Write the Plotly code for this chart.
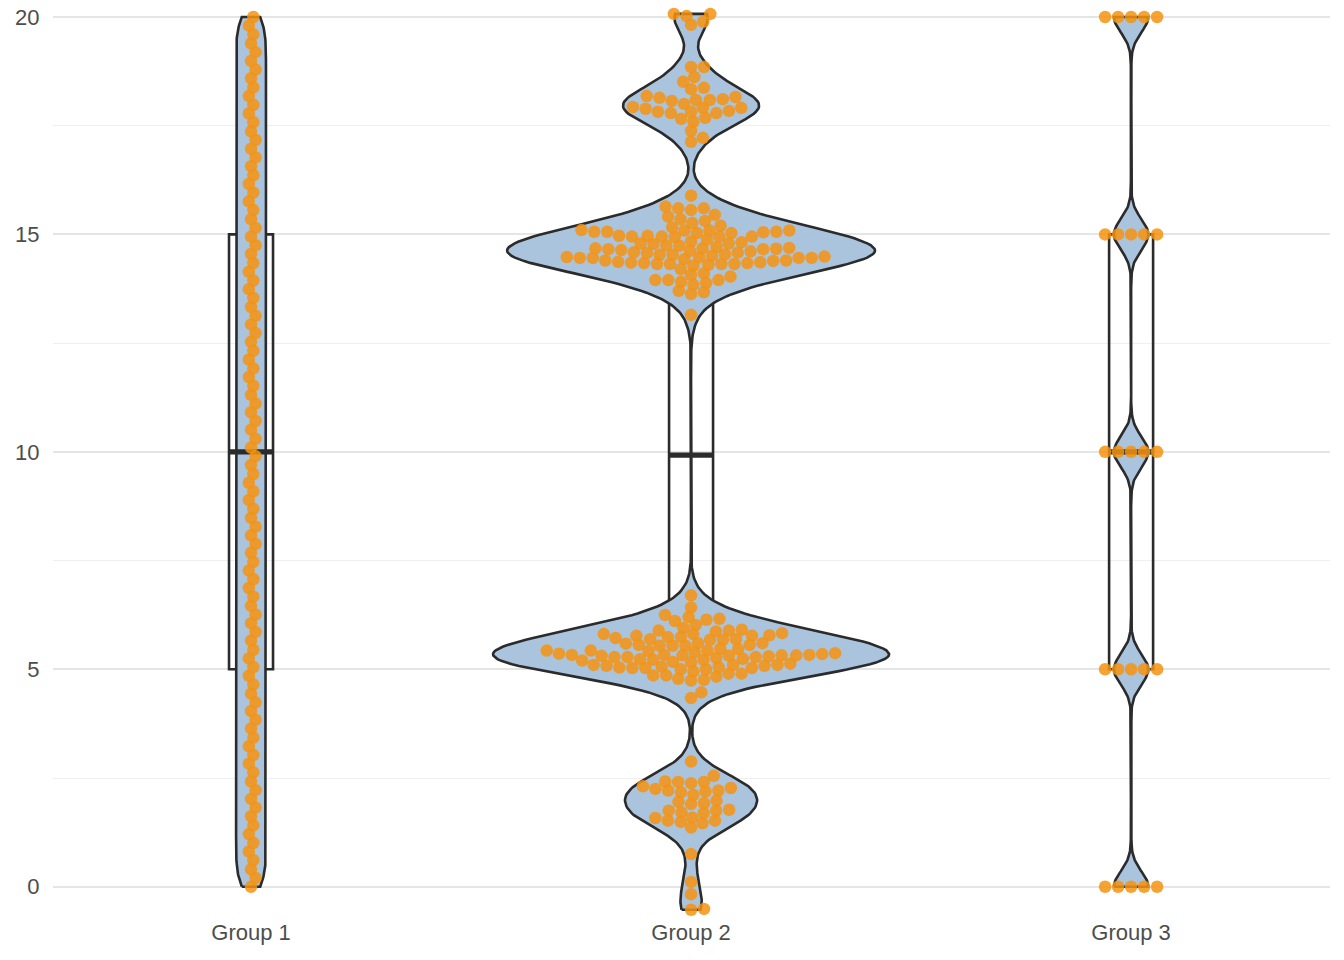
import numpy as np
import plotly.graph_objects as go

# ---------------- data ----------------
categories = ["Group 1", "Group 2", "Group 3"]

group1 = [0.00, 0.20, 0.40, 0.61, 0.81, 1.01, 1.21, 1.41, 1.62, 1.82,
          2.02, 2.22, 2.42, 2.63, 2.83, 3.03, 3.23, 3.43, 3.64, 3.84,
          4.04, 4.24, 4.44, 4.65, 4.85, 5.05, 5.25, 5.45, 5.66, 5.86,
          6.06, 6.26, 6.46, 6.67, 6.87, 7.07, 7.27, 7.47, 7.68, 7.88,
          8.08, 8.28, 8.48, 8.69, 8.89, 9.09, 9.29, 9.49, 9.70, 9.90,
          10.10, 10.30, 10.51, 10.71, 10.91, 11.11, 11.31, 11.52, 11.72, 11.92,
          12.12, 12.32, 12.53, 12.73, 12.93, 13.13, 13.33, 13.54, 13.74, 13.94,
          14.14, 14.34, 14.55, 14.75, 14.95, 15.15, 15.35, 15.56, 15.76, 15.96,
          16.16, 16.36, 16.57, 16.77, 16.97, 17.17, 17.37, 17.58, 17.78, 17.98,
          18.18, 18.38, 18.59, 18.79, 18.99, 19.19, 19.39, 19.60, 19.80, 20.00]

group2_top = [20.07, 20.02, 20.07, 19.82, 19.89]
group2_c18 = [18.85, 18.85, 18.51, 18.62, 18.34, 18.37, 18.16, 18.09, 18.09, 18.07,
              18.14, 18.11, 18.18, 17.91, 17.82, 17.79, 17.89, 17.79, 17.93, 18.00,
              17.82, 17.84, 17.91, 17.68, 17.59, 17.66, 17.38, 17.13, 17.22]
group2_c15 = [15.89, 15.60, 15.56, 15.64, 15.35, 15.31, 15.41, 15.10, 15.09, 14.97,
              14.95, 15.06, 15.03, 14.94, 15.06, 14.97, 15.16, 14.95,
              14.74, 14.71, 14.66, 14.66, 14.84, 14.78, 14.68, 14.82, 14.74,
              14.49, 14.46, 14.43, 14.39, 14.36, 14.34, 14.34, 14.58, 14.53,
              14.51, 14.59, 14.54, 14.32, 14.28, 14.40, 14.32,
              14.07, 13.95, 13.91, 14.10, 13.88, 13.70, 13.63, 13.15,
              15.60, 15.45, 15.26, 15.20, 15.06, 15.09, 14.95, 15.05, 15.09, 14.95, 15.03,
              14.61, 14.79, 14.68, 14.79, 14.57, 14.64, 14.67, 14.69, 14.53, 14.46, 14.48,
              14.32, 14.32, 14.35, 14.37, 14.40, 14.46, 14.46, 14.47, 14.20, 14.30,
              13.95, 14.03, 13.95, 13.84, 13.67, 14.62, 14.88]
group2_c5 = [6.70, 6.42, 6.25, 6.16, 6.11, 6.14, 6.20, 6.02, 5.95, 5.89,
             5.87, 5.89, 5.91, 5.81, 5.77, 5.81, 5.83, 5.78, 5.77, 5.72,
             5.60, 5.74, 5.69, 5.74, 5.68, 5.69, 5.68, 5.56, 5.54, 5.54,
             5.60, 5.54, 5.59, 5.56, 5.43, 5.42, 5.37, 5.43, 5.39, 5.43,
             5.47, 5.36, 5.46, 5.35, 5.33, 5.32, 5.28, 5.23, 5.22, 5.26,
             5.24, 5.31, 5.32, 5.28, 5.20, 5.28, 5.30, 5.32, 5.31, 5.33,
             5.33, 5.22, 5.16, 5.10, 5.06, 5.03, 5.00, 5.10, 5.08, 5.03,
             4.95, 5.03, 5.04, 5.08, 5.00, 5.05, 5.10, 5.13, 5.17, 4.90,
             4.86, 4.78, 4.74, 4.76, 4.83, 4.86, 4.90, 4.47, 4.34]
group2_c2 = [2.88, 2.55, 2.41, 2.38, 2.41, 2.42, 2.25, 2.19, 2.17, 2.31,
             2.11, 2.21, 2.21, 2.27, 1.95, 1.90, 1.92, 1.98, 1.75, 1.71,
             1.69, 1.75, 1.77, 1.58, 1.52, 1.49, 1.59, 1.46, 1.52, 1.36,
             0.75, 0.11, -0.17, -0.53, -0.51]
group2 = group2_top + group2_c18 + group2_c15 + group2_c5 + group2_c2

group3 = [0, 0, 0, 0, 0, 5, 5, 5, 5, 5, 10, 10, 10, 10, 10,
          15, 15, 15, 15, 15, 20, 20, 20, 20, 20]

groups = [group1, group2, group3]
positions = [1, 2, 3]
tick_values = [0, 5, 10, 15, 20]
minor_values = [2.5, 7.5, 12.5, 17.5]

# ---------------- style ----------------
VIOLIN_FILL = "#ABC4DE"
DARK = "#2B2B2B"
POINT = "#F5930F"
TEXT = "#4D4D4D"
FONT = "Liberation Sans, Arial, Helvetica, sans-serif"
BOX_W = 0.1
VIOLIN_W = 0.9
BW = 0.35
LW = 2.6

# swarm spacing (data units per point spacing)
PX_PER_X = 440.0
PX_PER_Y = 43.5
SPACING_PX = 13.0
XSIZE = SPACING_PX / PX_PER_X
YSIZE = SPACING_PX / (PX_PER_Y * 1.4)


def swarm_offsets(vals, xsize, ysize):
    vals = np.asarray(vals, dtype=float)
    order = np.argsort(vals, kind="stable")
    ys = vals[order] / ysize
    xs = np.zeros(len(ys))
    for i in range(1, len(ys)):
        yi = ys[i]
        pre_y = ys[:i]
        pre_x = xs[:i]
        m = np.abs(yi - pre_y) < 1
        if not m.any():
            xs[i] = 0.0
            continue
        py = pre_y[m]
        px = pre_x[m]
        off = np.sqrt(1 - (yi - py) ** 2)
        cands = np.concatenate([[0.0], px + off, px - off])
        best = None
        for c in cands:
            if np.any((yi - py) ** 2 + (c - px) ** 2 < 0.999):
                continue
            if best is None or abs(c) < abs(best):
                best = c
        xs[i] = best if best is not None else 0.0
    out = np.zeros(len(vals))
    out[order] = xs * xsize
    return out


def kde_trimmed(vals, bw, n=512):
    arr = np.asarray(vals, dtype=float)
    grid = np.linspace(arr.min(), arr.max(), n)
    dens = np.exp(-0.5 * ((grid[:, None] - arr[None, :]) / bw) ** 2).sum(axis=1)
    dens /= len(arr) * bw * np.sqrt(2 * np.pi)
    return grid, dens


# violin shapes, scaled by count (area proportional to n)
curves = []
for g in groups:
    grid, dens = kde_trimmed(g, BW)
    curves.append((grid, dens * len(g)))
max_w = max(c[1].max() for c in curves)

fig = go.Figure()

for pos, (grid, w) in zip(positions, curves):
    hw = VIOLIN_W / 2 * w / max_w
    xs = np.concatenate([pos - hw, (pos + hw)[::-1], [pos - hw[0]]])
    ys = np.concatenate([grid, grid[::-1], [grid[0]]])
    fig.add_trace(go.Scatter(
        x=xs, y=ys, mode="lines", fill="toself", fillcolor=VIOLIN_FILL,
        line=dict(color=DARK, width=LW), showlegend=False, hoverinfo="skip",
    ))

# boxes
for pos, g in zip(positions, groups):
    arr = np.asarray(g, dtype=float)
    q1, med, q3 = np.percentile(arr, [25, 50, 75])
    iqr = q3 - q1
    lo = arr[arr >= q1 - 1.5 * iqr].min()
    hi = arr[arr <= q3 + 1.5 * iqr].max()
    fig.add_trace(go.Box(
        x=[pos], q1=[q1], median=[med], q3=[q3], lowerfence=[lo], upperfence=[hi],
        orientation="v", width=BOX_W, whiskerwidth=0,
        fillcolor="rgba(0,0,0,0)", line=dict(color=DARK, width=LW),
        boxpoints=False, showlegend=False,
    ))
    fig.add_trace(go.Scatter(
        x=[pos - BOX_W / 2, pos + BOX_W / 2], y=[med, med], mode="lines",
        line=dict(color=DARK, width=2 * LW), showlegend=False, hoverinfo="skip",
    ))

# beeswarm points
for pos, g in zip(positions, groups):
    offs = swarm_offsets(g, XSIZE, YSIZE)
    fig.add_trace(go.Scatter(
        x=pos + offs, y=g, mode="markers", cliponaxis=False,
        marker=dict(color=POINT, size=12.5, opacity=0.85, line=dict(width=0)),
        showlegend=False,
    ))

fig.update_layout(
    width=1344, height=960,
    margin=dict(l=53, r=14, t=0, b=45),
    paper_bgcolor="white", plot_bgcolor="white",
    boxmode="overlay",
    font=dict(family=FONT, size=22, color=TEXT),
    showlegend=False,
    xaxis=dict(
        range=[0.55, 3.452], tickvals=positions, ticktext=categories,
        showgrid=False, zeroline=False, showline=False,
        ticks="", ticklabelstandoff=2,
        tickfont=dict(size=22, color=TEXT), automargin=False,
    ),
    yaxis=dict(
        range=[-0.65, 20.39], tickvals=tick_values,
        showgrid=True, gridcolor="#E5E5E5", gridwidth=2,
        zeroline=False, showline=False,
        ticks="outside", ticklen=8, tickcolor="rgba(0,0,0,0)",
        tickfont=dict(size=22, color=TEXT), automargin=False,
        ticklabeloverflow="allow",
        minor=dict(tickvals=minor_values, showgrid=True,
                   gridcolor="#EFEFEF", gridwidth=1),
    ),
)

fig.write_html(
    "out.html",
    config={"displayModeBar": False},
    post_script="document.body.style.margin='0';document.body.style.overflow='hidden';",
)
